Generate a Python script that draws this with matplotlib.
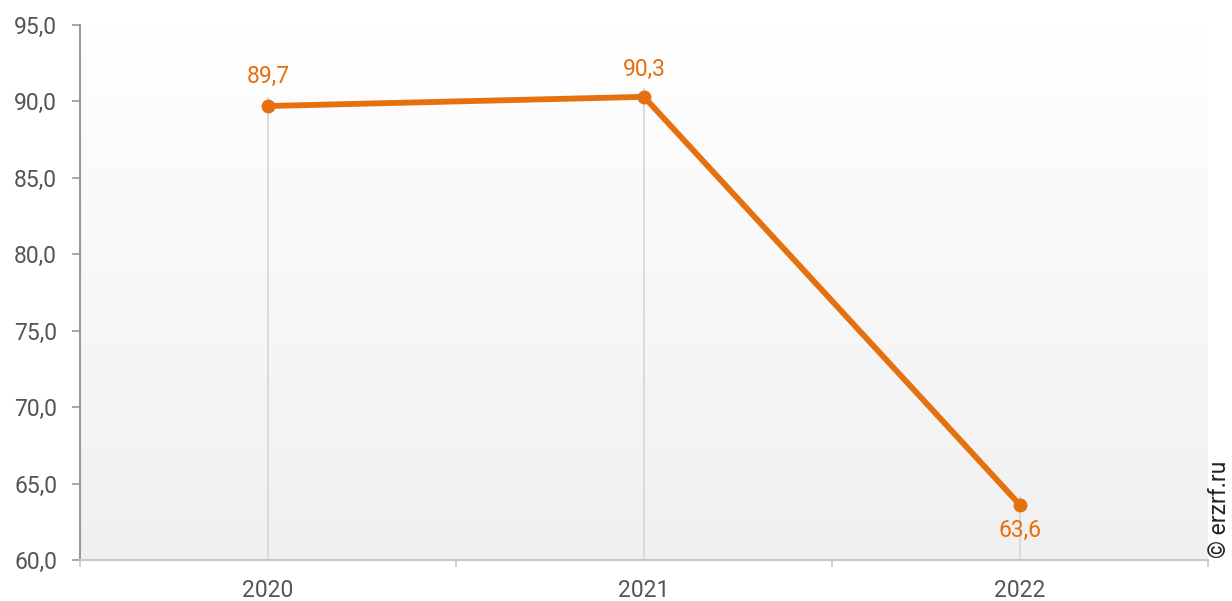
import matplotlib
matplotlib.use("Agg")
import matplotlib.pyplot as plt
import numpy as np

plt.rcParams['font.family'] = ['Roboto', 'DejaVu Sans']

years = ["2020", "2021", "2022"]
values = [89.7, 90.3, 63.6]
labels = ["89,7", "90,3", "63,6"]
yticks = [60, 65, 70, 75, 80, 85, 90, 95]
ytick_labels = ["60,0", "65,0", "70,0", "75,0", "80,0", "85,0", "90,0", "95,0"]

orange = "#E5700E"
gray_text = "#555555"

fig = plt.figure(figsize=(12.32, 6.01), dpi=100)
ax = fig.add_axes([80/1232, 1 - 560/601, (1208-80)/1232, (560-25)/601])

x = np.arange(len(years))
ax.set_xlim(-0.5, len(years) - 0.5)
ax.set_ylim(60, 95)

# gradient background
grad = np.linspace(1, 0, 256).reshape(-1, 1)
top = np.array([1.0, 1.0, 1.0])
bot = np.array([0xf0, 0xf0, 0xf0]) / 255
img = top[None, None, :] * grad[:, :, None] + bot[None, None, :] * (1 - grad[:, :, None])
ax.imshow(img, extent=[-0.5, len(years) - 0.5, 60, 95], aspect='auto', zorder=0)

# drop lines
ax.vlines(x, 60, np.array(values) + 0.6, color="#d9d9d9", lw=1.3, zorder=1)

ax.plot(x, values, color=orange, lw=4.2, marker='o', markersize=9, zorder=3,
        solid_capstyle='round')

offsets = [(0, 21), (0, 20), (0, -18)]
for xi, v, lab, off in zip(x, values, labels, offsets):
    ax.annotate(lab, (xi, v), xytext=off, textcoords='offset points',
                ha='center', va='center', color=orange, fontsize=16.5)

ax.set_yticks(yticks)
ax.set_yticklabels(ytick_labels)
ax.set_xticks(x)
ax.set_xticklabels(years)
ax.set_xticks(np.arange(-0.5, len(years)), minor=True)

ax.tick_params(axis='y', length=6, width=1.2, color="#999999", pad=10.5,
               labelsize=16.5, labelcolor=gray_text)
ax.tick_params(axis='x', which='major', length=0, pad=14, labelsize=16.5,
               labelcolor=gray_text)
ax.tick_params(axis='x', which='minor', length=5, width=1.2, color="#c8c8c8")

for s in ['top', 'right']:
    ax.spines[s].set_visible(False)
ax.spines['left'].set_color("#999999")
ax.spines['left'].set_linewidth(1.5)
ax.spines['bottom'].set_color("#c8c8c8")
ax.spines['bottom'].set_linewidth(1.5)

fig.text(1220/1232, 1 - 509/601, "© erzrf.ru", rotation=90, ha='center', va='center',
         fontsize=16.5, color="#222222")

fig.savefig("out.png", dpi=100)
